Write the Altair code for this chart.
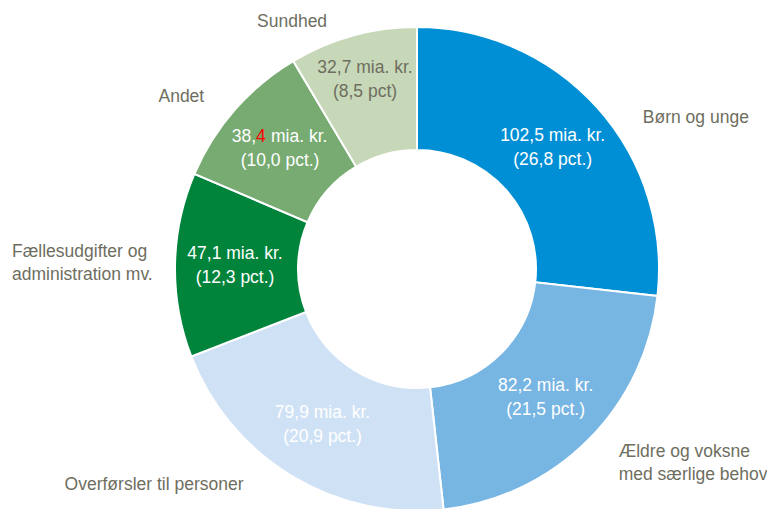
import altair as alt
import pandas as pd

categories = ["Børn og unge", "Ældre og voksne med særlige behov", "Overførsler til personer",
              "Fællesudgifter og administration mv.", "Andet", "Sundhed"]
outer_labels = ["Børn og unge", "Ældre og voksne\nmed særlige behov", "Overførsler til personer",
                "Fællesudgifter og\nadministration mv.", "Andet", "Sundhed"]
values = [102.5, 82.2, 79.9, 47.1, 38.4, 32.7]
amount_labels = ["102,5 mia. kr.", "82,2 mia. kr.", "79,9 mia. kr.", "47,1 mia. kr.", "38,4 mia. kr.", "32,7 mia. kr."]
pct_labels = ["(26,8 pct.)", "(21,5 pct.)", "(20,9 pct.)", "(12,3 pct.)", "(10,0 pct.)", "(8,5 pct)"]
colors = ["#008FD5", "#77B5E3", "#CFE2F5", "#00843C", "#77AB72", "#C7D8B8"]

df = pd.DataFrame({
    "cat": categories,
    "outer": outer_labels,
    "value": values,
    "amount": amount_labels,
    "pct": pct_labels,
    "ord": list(range(len(categories))),
})

FONT = "Liberation Sans"
FS = 17.5
GREY = "#6E6E60"

base = alt.Chart(df).encode(
    theta=alt.Theta("value:Q", stack=True),
    order=alt.Order("ord:Q", sort="ascending"),
)

arcs = base.mark_arc(radius=242, radius2=119, stroke="white", strokeWidth=2).encode(
    color=alt.Color("cat:N", scale=alt.Scale(domain=categories, range=colors), legend=None),
)

white_cats = categories[:4]
inner_white = base.transform_calculate(
    t="indexof(" + str(white_cats) + ", datum.cat) >= 0 ? datum.amount + '\\n' + datum.pct : ''"
).mark_text(radius=182, font=FONT, fontSize=FS, color="white", lineBreak="\n",
            lineHeight=24, align="center", baseline="middle", dy=-12).encode(text="t:N")

inner_grey = base.transform_calculate(
    t="datum.cat == 'Sundhed' ? datum.amount + '\\n' + datum.pct : ''"
).mark_text(radius=196, font=FONT, fontSize=FS, color=GREY, lineBreak="\n",
            lineHeight=24, align="center", baseline="middle", dy=-12).encode(text="t:N")

def andet_piece(expr, dx, dy, align, color):
    return base.transform_calculate(t="datum.cat == 'Andet' ? " + expr + " : ''").mark_text(
        radius=182, font=FONT, fontSize=FS, color=color, align=align, baseline="middle",
        dx=dx, dy=dy).encode(text="t:N")

andet_layers = [
    andet_piece("slice(datum.amount, 0, 3)", -24, -12, "right", "white"),
    andet_piece("slice(datum.amount, 3, 4)", -24, -12, "left", "#FF0000"),
    andet_piece("slice(datum.amount, 5)", -9, -12, "left", "white"),
    andet_piece("datum.pct", 0, 12, "center", "white"),
]

outer_styles = [
    ("Børn og unge", "left", 32, 22),
    ("Ældre og voksne med særlige behov", "left", 18, -1),
    ("Overførsler til personer", "center", -128, -6),
    ("Fællesudgifter og administration mv.", "left", -145, -13),
    ("Andet", "center", -40, -1),
    ("Sundhed", "center", -56, 4),
]
outer_layers = []
for cat, align, dx, dy in outer_styles:
    outer_layers.append(
        base.transform_calculate(t="datum.cat == '" + cat + "' ? datum.outer : ''").mark_text(
            radius=260, font=FONT, fontSize=FS, color=GREY, lineBreak="\n", lineHeight=23,
            align=align, baseline="middle", dx=dx, dy=dy).encode(text="t:N")
    )

chart = alt.layer(arcs, inner_white, inner_grey, *andet_layers, *outer_layers).properties(
    width=700, height=480,
    padding={"left": 59, "top": 21, "right": 0, "bottom": 0},
    autosize=alt.AutoSizeParams(type="none"),
).configure_view(stroke=None)

chart.save("out.html", embed_options={"renderer": "svg", "actions": False})
